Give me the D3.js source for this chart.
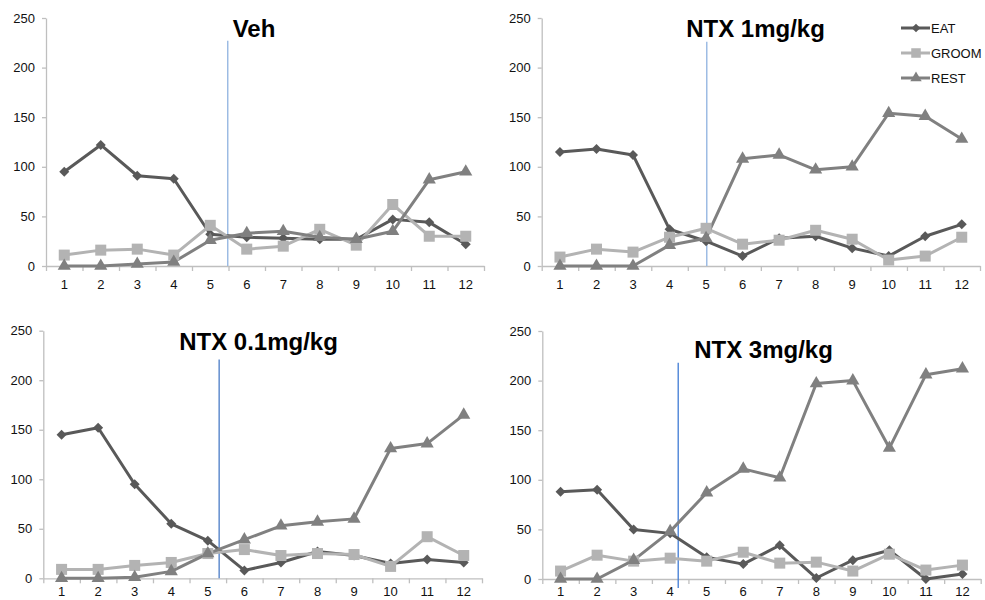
<!DOCTYPE html>
<html>
<head>
<meta charset="utf-8">
<script src="https://cdn.jsdelivr.net/npm/d3@7/dist/d3.min.js"></script>
<style>
  html, body { margin: 0; padding: 0; background: #fff; }
  svg { display: block; font-family: "Liberation Sans", Arial, Helvetica, sans-serif; }
</style>
</head>
<body>
<svg id="chart" width="985" height="600"></svg>
<script>
// Time bins on the x axis
const bins = ["1", "2", "3", "4", "5", "6", "7", "8", "9", "10", "11", "12"];
const yTicks = [0, 50, 100, 150, 200, 250];
const seriesNames = ["EAT", "GROOM", "REST"];
const panelTitles = ["Veh", "NTX 1mg/kg", "NTX 0.1mg/kg", "NTX 3mg/kg"];

// Behaviour counts per bin, one array per treatment and behaviour
const vehEat    = [95, 122, 91, 88, 32, 29, 28, 27, 27, 47, 44, 22];
const vehGroom  = [11, 16, 17, 11, 41, 17, 20, 37, 21, 62, 30, 30];
const vehRest   = [0, 0, 2, 4, 26, 33, 35, 29, 27, 35, 87, 95];

const ntx1Eat   = [115, 118, 112, 37, 25, 10, 28, 30, 18, 10, 30, 42];
const ntx1Groom = [9, 17, 14, 29, 38, 22, 26, 36, 27, 6, 10, 29];
const ntx1Rest  = [0, 0, 0, 21, 28, 108, 112, 97, 100, 154, 151, 128];

const ntx01Eat   = [145, 152, 95, 55, 38, 8, 16, 27, 23, 15, 19, 16];
const ntx01Groom = [9, 9, 13, 16, 25, 29, 23, 25, 24, 12, 42, 23];
const ntx01Rest  = [0, 0, 1, 7, 25, 39, 53, 57, 60, 131, 136, 165];

const ntx3Eat   = [88, 90, 50, 46, 22, 15, 34, 1, 19, 29, 0, 5];
const ntx3Groom = [8, 24, 18, 21, 18, 27, 16, 17, 8, 25, 9, 14];
const ntx3Rest  = [0, 0, 19, 48, 87, 111, 102, 197, 200, 132, 206, 212];

// Injection marker: position along the bin axis and its top / bottom in count units
const markerPos    = [5.48, 5.02, 5.31, 4.22];
const markerTop    = [227, 226, 221, 218];
const markerBottom = [0, 0, 0, -9];

const panelData = [
  [vehEat, vehGroom, vehRest],
  [ntx1Eat, ntx1Groom, ntx1Rest],
  [ntx01Eat, ntx01Groom, ntx01Rest],
  [ntx3Eat, ntx3Groom, ntx3Rest]
];

// Layout of each plot area
const layout = [
  { x0: 46,    x1: 484,   yTop: 18,    yBot: 266,   tx: 254,   ty: 37,    line: "#8fb2e0", pad: 14 },
  { x0: 541.7, x1: 980,   yTop: 18,    yBot: 266,   tx: 755.5, ty: 37,    line: "#8fb2e0", pad: 14 },
  { x0: 43.3,  x1: 482,   yTop: 330.7, yBot: 578.3, tx: 258.5, ty: 349.5, line: "#4a7cc6", pad: 8 },
  { x0: 542.3, x1: 980.7, yTop: 331,   yBot: 579,   tx: 763.5, ty: 357.5, line: "#3f7bd4", pad: 8 }
];

const colors = { EAT: "#595959", GROOM: "#b3b3b3", REST: "#808080" };
const axisColor = "#bfbfbf";

const svg = d3.select("#chart");

// Diamond = square turned by 45 degrees
function addSymbol(g, name, x, y, scale) {
  const c = colors[name];
  if (name === "EAT") {
    g.append("path")
      .attr("d", d3.symbol(d3.symbolSquare, 50 * scale)())
      .attr("transform", `translate(${x},${y}) rotate(45)`)
      .attr("fill", c);
  } else if (name === "GROOM") {
    const s = 11 * Math.sqrt(scale);
    g.append("rect")
      .attr("x", x - s / 2).attr("y", y - s / 2)
      .attr("width", s).attr("height", s)
      .attr("fill", c);
  } else {
    g.append("path")
      .attr("d", d3.symbol(d3.symbolTriangle, 75 * scale)())
      .attr("transform", `translate(${x},${y})`)
      .attr("fill", c);
  }
}

layout.forEach((L, pi) => {
  const g = svg.append("g");

  const xBand = d3.scaleBand().domain(bins).range([L.x0, L.x1]).padding(0);
  const xPos = d3.scaleLinear().domain([0.5, 12.5]).range([L.x0, L.x1]);
  const y = d3.scaleLinear().domain([0, 250]).range([L.yBot, L.yTop]);

  // y axis
  const yAxis = g.append("g")
    .attr("transform", `translate(${L.x0},0)`)
    .call(d3.axisLeft(y).tickValues(yTicks).tickSize(4).tickPadding(7).tickSizeOuter(0));
  yAxis.select(".domain").attr("stroke", axisColor).attr("stroke-width", 1.3);
  yAxis.selectAll(".tick line").attr("stroke", axisColor).attr("stroke-width", 1.3);
  yAxis.selectAll("text").attr("font-size", 13).attr("fill", "#111")
    .attr("font-family", "'Liberation Sans', Arial, sans-serif");

  // x axis: tick marks at bin boundaries
  const bounds = d3.range(0.5, 13, 1);
  const xTickAxis = g.append("g")
    .attr("transform", `translate(0,${L.yBot})`)
    .call(d3.axisBottom(xPos).tickValues(bounds).tickSize(5).tickFormat("").tickSizeOuter(0));
  xTickAxis.select(".domain").attr("stroke", axisColor).attr("stroke-width", 1.3);
  xTickAxis.selectAll(".tick line").attr("stroke", axisColor).attr("stroke-width", 1.3);

  // x axis: bin labels
  const xLabAxis = g.append("g")
    .attr("transform", `translate(0,${L.yBot})`)
    .call(d3.axisBottom(xBand).tickSize(0).tickPadding(L.pad));
  xLabAxis.select(".domain").remove();
  xLabAxis.selectAll("text").attr("font-size", 13).attr("fill", "#111")
    .attr("font-family", "'Liberation Sans', Arial, sans-serif");

  // injection marker line
  g.append("line")
    .attr("x1", xPos(markerPos[pi])).attr("x2", xPos(markerPos[pi]))
    .attr("y1", y(markerTop[pi])).attr("y2", y(markerBottom[pi]))
    .attr("stroke", L.line).attr("stroke-width", 1.3);

  // series lines and markers
  const lineGen = d3.line()
    .x((d, i) => xBand(bins[i]) + xBand.bandwidth() / 2)
    .y(d => y(d));

  seriesNames.forEach((name, si) => {
    const vals = panelData[pi][si];
    g.append("path")
      .datum(vals)
      .attr("d", lineGen)
      .attr("fill", "none")
      .attr("stroke", colors[name])
      .attr("stroke-width", 3)
      .attr("stroke-linejoin", "round");
  });
  seriesNames.forEach((name, si) => {
    const vals = panelData[pi][si];
    vals.forEach((v, i) => {
      addSymbol(g, name, xBand(bins[i]) + xBand.bandwidth() / 2, y(v), 1);
    });
  });

  // panel title
  g.append("text")
    .attr("x", L.tx).attr("y", L.ty)
    .attr("text-anchor", "middle")
    .attr("font-size", 24).attr("font-weight", "bold")
    .attr("fill", "#000")
    .text(panelTitles[pi]);
});

// legend in the second panel
const legend = svg.append("g");
seriesNames.forEach((name, i) => {
  const cy = 28 + i * 25;
  legend.append("line")
    .attr("x1", 901).attr("x2", 930).attr("y1", cy).attr("y2", cy)
    .attr("stroke", colors[name]).attr("stroke-width", 3);
  addSymbol(legend, name, 916, cy, 0.75);
  legend.append("text")
    .attr("x", 931).attr("y", cy + 4.5)
    .attr("font-size", 13).attr("fill", "#111")
    .text(name);
});
</script>
</body>
</html>
